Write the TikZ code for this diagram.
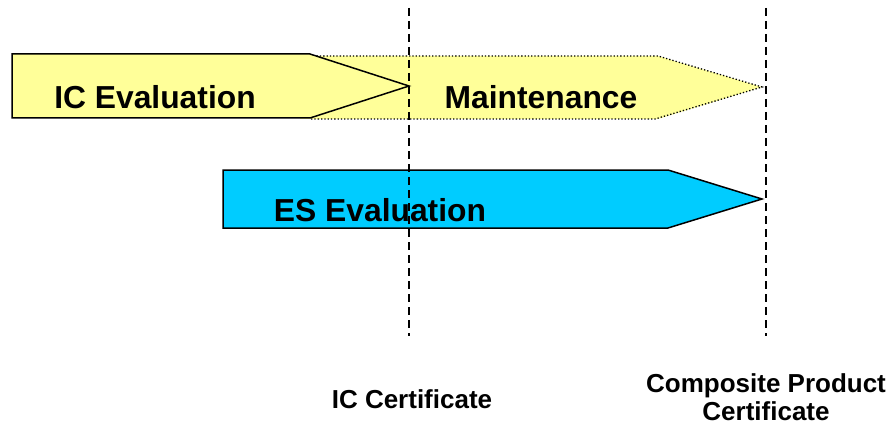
\documentclass[tikz,border=0pt]{standalone}
\usepackage{fontspec}
\setmainfont{Liberation Sans}
\definecolor{pyellow}{HTML}{FFFF99}
\definecolor{pcyan}{HTML}{00CCFF}
\begin{document}
\begin{tikzpicture}[x=1pt,y=-1pt,
  phase/.style={draw=black,line width=1.5pt,line join=miter},
  lbl/.style={font=\bfseries\fontsize{31.8}{34}\selectfont,inner sep=0pt},
  cert/.style={font=\bfseries\fontsize{26}{28.5}\selectfont,inner sep=0pt,align=center},
  msline/.style={draw=black,line width=1.6pt,dash pattern=on 8pt off 5pt}]
\useasboundingbox (0,0) rectangle (891,425);
% Maintenance (behind)
\fill[pyellow] (300,56) -- (658,56) -- (762,87) -- (658,119) -- (300,119) -- cycle;
\draw[line width=1.3pt,dotted] (310,56) -- (658,56) -- (762,87) -- (655,119) -- (310,119);
% IC Evaluation
\draw[phase,fill=pyellow] (12,54) -- (310,54) -- (409,86) -- (310,118) -- (12,118) -- cycle;
% ES Evaluation
\draw[phase,fill=pcyan] (223,170) -- (668,170) -- (762,199) -- (668,228) -- (223,228) -- cycle;
% milestones
\coordinate (m1t) at (409,8); \coordinate (m1b) at (409,336);
\coordinate (m2t) at (766,8); \coordinate (m2b) at (766,336);
\draw[msline] (m1t) -- (m1b);
\draw[msline] (m2t) -- (m2b);
% labels
\node[lbl] (ice) at (155,97) {IC Evaluation};
\node[lbl] (mnt) at (541,97) {Maintenance};
\node[lbl] (ese) at (380,210) {ES Evaluation};
\node[cert] (icc) at (412,399) {IC Certificate};
\node[cert] (cpc) at (766,397) {Composite Product\\Certificate};
\end{tikzpicture}
\end{document}
